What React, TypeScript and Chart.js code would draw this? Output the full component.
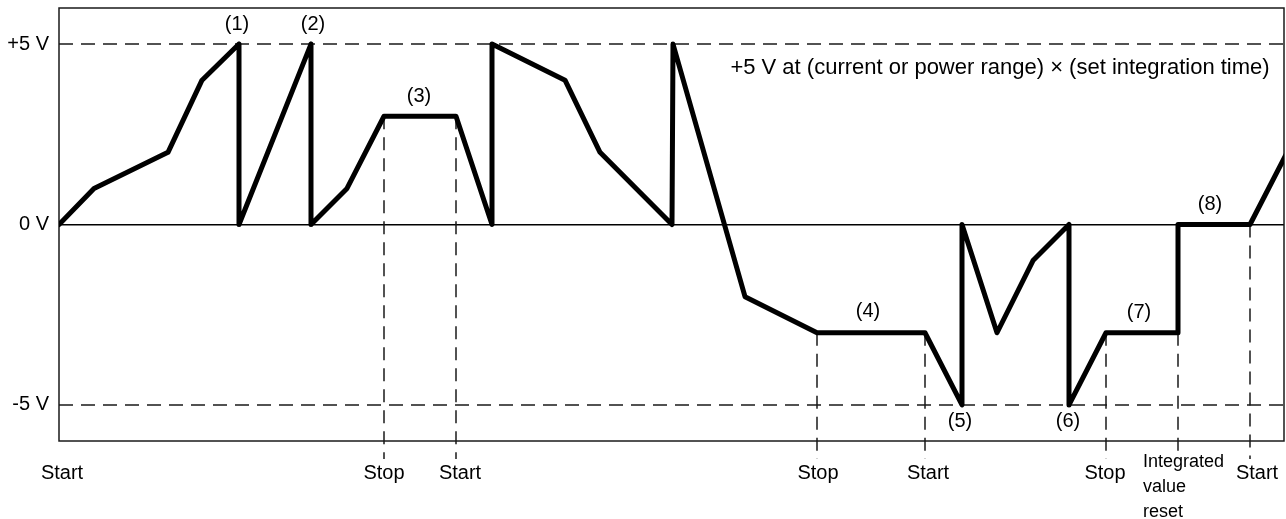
import React, { useEffect, useRef } from "react";
import { Chart, registerables } from "chart.js";

Chart.register(...registerables);

const FONT = '"Liberation Sans", Arial, Helvetica, sans-serif';

// Integrator output waveform (time in arbitrary units, voltage in V)
const waveTime = [0, 35, 109, 143, 180, 180, 252, 252, 288, 325, 397, 433, 433, 506, 541, 613, 614, 686, 758, 866, 903, 903, 938, 974, 1010, 1010, 1047, 1119, 1119, 1191, 1230];
const waveVolt = [0, 1, 2, 4, 5, 0, 5, 0, 1, 3, 3, 0, 5, 4, 2, 0, 5, -2, -3, -3, -5, 0, -3, -1, 0, -5, -3, -3, 0, 0, 2.1];

const timeMin = 0;
const timeMax = 1225;
const voltMin = -6;
const voltMax = 6;

const yTickValues = [-5, 0, 5];
const yTickLabels = ["-5 V", "0 V", "+5 V"];

const limitLevels = [5, -5];

// event marker lines (dashed verticals)
const markerTime = [325, 397, 758, 866, 1047, 1119, 1191];
const markerVolt = [3, 3, -3, -3, -3, -3, 0];
const markerBottom = -6.5;

// event labels below the axis
const eventLabels = ["Start", "Stop", "Start", "Stop", "Start", "Stop", "Integrated\nvalue\nreset", "Start"];
const eventTime = [3, 325, 401, 759, 869, 1046, 1084, 1198];
const eventVolt = [-6.9, -6.9, -6.9, -6.9, -6.9, -6.9, -6.57, -6.9];

// numbered notes inside the plot
const noteTexts = ["(1)", "(2)", "(3)", "(4)", "(5)", "(6)", "(7)", "(8)"];
const noteTime = [178, 254, 360, 809, 901, 1009, 1080, 1151];
const noteVolt = [5.55, 5.55, 3.55, -2.42, -5.47, -5.47, -2.44, 0.55];

const rangeNote = "+5 V at (current or power range) × (set integration time)";
const rangeNoteTime = 941;
const rangeNoteVolt = 4.35;

const overlayPlugin = {
  id: "overlay",
  beforeDatasetsDraw(chart: any) {
    const { ctx, chartArea: a, scales } = chart;
    const x = scales.x;
    const y = scales.y;
    ctx.save();
    // frame
    ctx.strokeStyle = "#1a1a1a";
    ctx.lineWidth = 1.5;
    ctx.setLineDash([]);
    ctx.strokeRect(a.left, a.top, a.right - a.left, a.bottom - a.top);
    // limit levels
    ctx.setLineDash([14, 8]);
    for (const lv of limitLevels) {
      const py = y.getPixelForValue(lv);
      ctx.beginPath();
      ctx.moveTo(a.left, py);
      ctx.lineTo(a.right, py);
      ctx.stroke();
    }
    // markers
    ctx.setLineDash([13, 8]);
    markerTime.forEach((t, i) => {
      const px = x.getPixelForValue(t);
      ctx.beginPath();
      ctx.moveTo(px, y.getPixelForValue(markerVolt[i]));
      ctx.lineTo(px, y.getPixelForValue(markerBottom));
      ctx.stroke();
    });
    ctx.restore();
  },
  afterDatasetsDraw(chart: any) {
    const { ctx, scales } = chart;
    const x = scales.x;
    const y = scales.y;
    ctx.save();
    ctx.fillStyle = "#000";
    ctx.textBaseline = "middle";
    ctx.font = `20px ${FONT}`;
    ctx.textAlign = "center";
    noteTexts.forEach((s, i) => {
      ctx.fillText(s, x.getPixelForValue(noteTime[i]), y.getPixelForValue(noteVolt[i]));
    });
    ctx.font = `22px ${FONT}`;
    ctx.fillText(rangeNote, x.getPixelForValue(rangeNoteTime), y.getPixelForValue(rangeNoteVolt));
    eventLabels.forEach((s, i) => {
      const px = x.getPixelForValue(eventTime[i]);
      const py = y.getPixelForValue(eventVolt[i]);
      const lines = s.split("\n");
      if (lines.length > 1) {
        ctx.font = `18px ${FONT}`;
        ctx.textAlign = "left";
        lines.forEach((ln, k) => ctx.fillText(ln, px, py + k * 25));
      } else {
        ctx.font = `20px ${FONT}`;
        ctx.textAlign = "center";
        ctx.fillText(s, px, py);
      }
    });
    ctx.restore();
  },
};

export default function App() {
  const canvasRef = useRef<HTMLCanvasElement | null>(null);

  useEffect(() => {
    document.body.style.margin = "0";
    const canvas = canvasRef.current;
    if (!canvas) return;
    const points = waveTime.map((t, i) => ({ x: t, y: waveVolt[i] }));
    const chart = new Chart(canvas, {
      type: "line",
      data: {
        datasets: [
          {
            data: points,
            borderColor: "#000",
            borderWidth: 5,
            pointRadius: 0,
            tension: 0,
            borderJoinStyle: "round",
            borderCapStyle: "round",
            fill: false,
          },
        ],
      },
      options: {
        animation: false,
        responsive: true,
        maintainAspectRatio: false,
        events: [],
        layout: { padding: { top: 8, right: 2, bottom: 78, left: 0 } },
        plugins: { legend: { display: false }, tooltip: { enabled: false } },
        scales: {
          x: {
            type: "linear",
            min: timeMin,
            max: timeMax,
            display: false,
          },
          y: {
            type: "linear",
            min: voltMin,
            max: voltMax,
            afterBuildTicks: (scale: any) => {
              scale.ticks = yTickValues.map((v) => ({ value: v }));
            },
            afterFit: (scale: any) => {
              scale.width = 59;
              scale.paddingTop = 0;
              scale.paddingBottom = 0;
            },
            ticks: {
              padding: 10,
              color: "#000",
              font: { family: FONT, size: 20 },
              callback: (val: any) => {
                const idx = yTickValues.indexOf(Number(val));
                return idx >= 0 ? yTickLabels[idx] : "";
              },
            },
            grid: {
              drawTicks: false,
              lineWidth: 1.5,
              color: (c: any) => (c.tick && c.tick.value === 0 ? "#000" : "rgba(0,0,0,0)"),
            },
            border: { display: false },
          },
        },
      },
      plugins: [overlayPlugin],
    });
    return () => chart.destroy();
  }, []);

  return (
    <div style={{ position: "absolute", left: 0, top: 0, width: 1286, height: 519, background: "#fff" }}>
      <canvas ref={canvasRef} />
    </div>
  );
}
